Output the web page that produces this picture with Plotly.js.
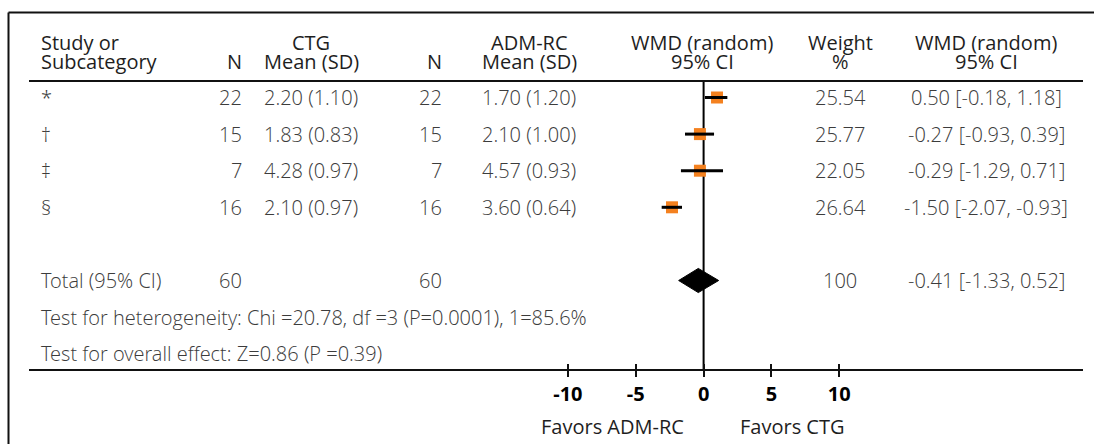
<!DOCTYPE html>
<html>
<head>
<meta charset="utf-8">
<script src="https://cdn.plot.ly/plotly-3.0.1.min.js"></script>
<style>html,body{margin:0;padding:0;background:#fff;}#chart{width:1094px;height:444px;}</style>
</head>
<body>
<div id="chart"></div>
<script>
// ---- data ----
const studies = ['*', '†', '‡', '§'];
const nCTG = [22, 15, 7, 16];
const meanCTG = [2.20, 1.83, 4.28, 2.10];
const sdCTG = [1.10, 0.83, 0.97, 0.97];
const nADM = [22, 15, 7, 16];
const meanADM = [1.70, 2.10, 4.57, 3.60];
const sdADM = [1.20, 1.00, 0.93, 0.64];
const weights = [25.54, 25.77, 22.05, 26.64];
const wmd = [0.50, -0.27, -0.29, -1.50];
const wmdLo = [-0.18, -0.93, -1.29, -2.07];
const wmdHi = [1.18, 0.39, 0.71, -0.93];
// positions of the marks as drawn in the figure (axis units)
const plotPoint = [0.99, -0.27, -0.27, -2.33];
const plotLo = [0.10, -1.37, -1.67, -3.09];
const plotHi = [1.75, 0.77, 1.43, -1.59];
// total
const totalLabel = 'Total (95% CI)';
const totalNCTG = 60;
const totalNADM = 60;
const totalWeight = 100;
const totalWmd = -0.41, totalLo = -1.33, totalHi = 0.52;
const diamondPoint = -0.39, diamondLo = -1.84, diamondHi = 1.11;
const hetText = 'Test for heterogeneity: Chi =20.78, df =3 (P=0.0001), 1=85.6%';
const overallText = 'Test for overall effect: Z=0.86 (P =0.39)';
const tickVals = [-10, -5, 0, 5, 10];
const tickText = ['-10', '-5', '0', '5', '10'];
const favorsLeft = 'Favors ADM-RC';
const favorsRight = 'Favors CTG';

// ---- layout helpers ----
const W = 1094, H = 444;
const px = v => v / W;            // paper x from pixel
const py = v => (H - v) / H;      // paper y from pixel
const rows = [1, 2, 3, 4];
const totalRow = 6, hetRow = 7, overallRow = 8;

const f2 = v => v.toFixed(2);
const ci = (m, l, h) => f2(m) + ' [' + f2(l) + ', ' + f2(h) + ']';

const FONT = 'Open Sans, Lato, sans-serif';
const bodyFont = {family: 'Open Sans Light, Open Sans, sans-serif', size: 20, color: '#3c3c3c', weight: 300};
const headFont = {family: FONT, size: 20, color: '#1e1e1e', weight: 400};

const ann = [];
function addText(text, xPix, y, anchor, font, yref) {
  ann.push({text: text, x: px(xPix), xref: 'paper', y: y, yref: yref || 'y',
    xanchor: anchor, yanchor: 'middle', showarrow: false, font: font});
}
// headers (paper y)
const hY1 = py(42.5), hY2 = py(61);
addText('Study or', 39, hY1, 'left', headFont, 'paper');
addText('Subcategory', 39, hY2, 'left', headFont, 'paper');
addText('N', 244, hY2, 'right', headFont, 'paper');
addText('CTG', 311, hY1, 'center', headFont, 'paper');
addText('Mean (SD)', 311, hY2, 'center', headFont, 'paper');
addText('N', 444, hY2, 'right', headFont, 'paper');
addText('ADM-RC', 529, hY1, 'center', headFont, 'paper');
addText('Mean (SD)', 529, hY2, 'center', headFont, 'paper');
addText('WMD (random)', 702, hY1, 'center', headFont, 'paper');
addText('95% CI', 702, hY2, 'center', headFont, 'paper');
addText('Weight', 840, hY1, 'center', headFont, 'paper');
addText('%', 840, hY2, 'center', headFont, 'paper');
addText('WMD (random)', 986, hY1, 'center', headFont, 'paper');
addText('95% CI', 986, hY2, 'center', headFont, 'paper');

rows.forEach((r, i) => {
  addText(studies[i], 39, r, 'left', bodyFont);
  addText(String(nCTG[i]), 244, r, 'right', bodyFont);
  addText(f2(meanCTG[i]) + ' (' + f2(sdCTG[i]) + ')', 311, r, 'center', bodyFont);
  addText(String(nADM[i]), 444, r, 'right', bodyFont);
  addText(f2(meanADM[i]) + ' (' + f2(sdADM[i]) + ')', 529, r, 'center', bodyFont);
  addText(f2(weights[i]), 840, r, 'center', bodyFont);
  addText(ci(wmd[i], wmdLo[i], wmdHi[i]), 986, r, 'center', bodyFont);
});
addText(totalLabel, 39, totalRow, 'left', bodyFont);
addText(String(totalNCTG), 244, totalRow, 'right', bodyFont);
addText(String(totalNADM), 444, totalRow, 'right', bodyFont);
addText(String(totalWeight), 840, totalRow, 'center', bodyFont);
addText(ci(totalWmd, totalLo, totalHi), 986, totalRow, 'center', bodyFont);
addText(hetText, 39, hetRow, 'left', bodyFont);
addText(overallText, 39, overallRow, 'left', bodyFont);
const favFont = {family: FONT, size: 20, color: '#1e1e1e', weight: 400};
addText(favorsLeft, 612, py(426), 'center', favFont, 'paper');
addText(favorsRight, 792, py(426), 'center', favFont, 'paper');

// ---- traces ----
const ciX = [], ciY = [];
rows.forEach((r, i) => { ciX.push(plotLo[i], plotHi[i], null); ciY.push(r, r, null); });
const dh = 0.33;
const traces = [
  {type: 'scatter', mode: 'markers', x: plotPoint, y: rows, xaxis: 'x', yaxis: 'y',
   marker: {symbol: 'square', size: 12, color: '#f4811f', line: {width: 0}},
   hoverinfo: 'skip', showlegend: false},
  {type: 'scatter', mode: 'lines', x: ciX, y: ciY, xaxis: 'x', yaxis: 'y',
   line: {color: '#000', width: 3}, hoverinfo: 'skip', showlegend: false, connectgaps: false},
  {type: 'scatter', mode: 'lines', fill: 'toself', fillcolor: '#000',
   x: [diamondLo, diamondPoint, diamondHi, diamondPoint, diamondLo],
   y: [totalRow, totalRow - dh, totalRow, totalRow + dh, totalRow],
   xaxis: 'x', yaxis: 'y', line: {color: '#000', width: 1}, hoverinfo: 'skip', showlegend: false},
  // invisible trace to create the second (overlay) x axis for inward ticks
  {type: 'scatter', mode: 'markers', x: [0], y: [totalRow], xaxis: 'x2', yaxis: 'y',
   marker: {opacity: 0}, hoverinfo: 'skip', showlegend: false}
];

// axis ranges so that 0 sits at pixel ~703.6 with 13.57 px per unit
const x0Pix = 29, x1Pix = 1083, zeroPix = 703.6, ppu = 13.57;
const xRange = [(x0Pix - zeroPix) / ppu, (x1Pix - zeroPix) / ppu];
const rowPix1 = 97.5, rowStep = 36.6, axisPix = 369;
const yRange = [1 + (axisPix - rowPix1) / rowStep, 1 - rowPix1 / rowStep];

const lineCol = '#111';
const layout = {
  width: W, height: H,
  margin: {l: 0, r: 0, t: 0, b: 0, pad: 0},
  paper_bgcolor: '#fff', plot_bgcolor: 'rgba(0,0,0,0)',
  showlegend: false,
  xaxis: {domain: [px(x0Pix), px(x1Pix)], range: xRange, fixedrange: true,
    showgrid: false, zeroline: false, showline: true, linecolor: lineCol, linewidth: 2,
    tickmode: 'array', tickvals: tickVals, ticktext: tickText,
    ticks: 'outside', ticklen: 6, tickwidth: 2, tickcolor: lineCol,
    tickfont: {family: FONT, size: 20, color: '#000', weight: 700}, ticklabelstandoff: 0},
  xaxis2: {overlaying: 'x', matches: 'x', domain: [px(x0Pix), px(x1Pix)], range: xRange, anchor: 'y',
    showgrid: false, zeroline: false, showline: false, showticklabels: false,
    tickmode: 'array', tickvals: tickVals, ticks: 'inside', ticklen: 5, tickwidth: 2, tickcolor: lineCol},
  yaxis: {domain: [py(axisPix), 1], range: yRange, visible: false, fixedrange: true,
    showgrid: false, zeroline: false},
  annotations: ann,
  shapes: [
    // frame (left and top)
    {type: 'line', xref: 'paper', yref: 'paper', x0: px(8.5), x1: px(8.5), y0: py(12.5), y1: 0,
     line: {color: '#111', width: 2}},
    {type: 'line', xref: 'paper', yref: 'paper', x0: px(8.5), x1: 1, y0: py(12.5), y1: py(12.5),
     line: {color: '#111', width: 2}},
    // header rule
    {type: 'line', xref: 'paper', yref: 'paper', x0: px(x0Pix), x1: px(x1Pix), y0: py(81), y1: py(81),
     line: {color: '#111', width: 2}},
    // line of no effect
    {type: 'line', xref: 'x', yref: 'paper', x0: 0, x1: 0, y0: py(81), y1: py(axisPix),
     line: {color: '#000', width: 2}, layer: 'below'}
  ]
};

Plotly.newPlot('chart', traces, layout, {displayModeBar: false, staticPlot: true});
</script>
</body>
</html>
